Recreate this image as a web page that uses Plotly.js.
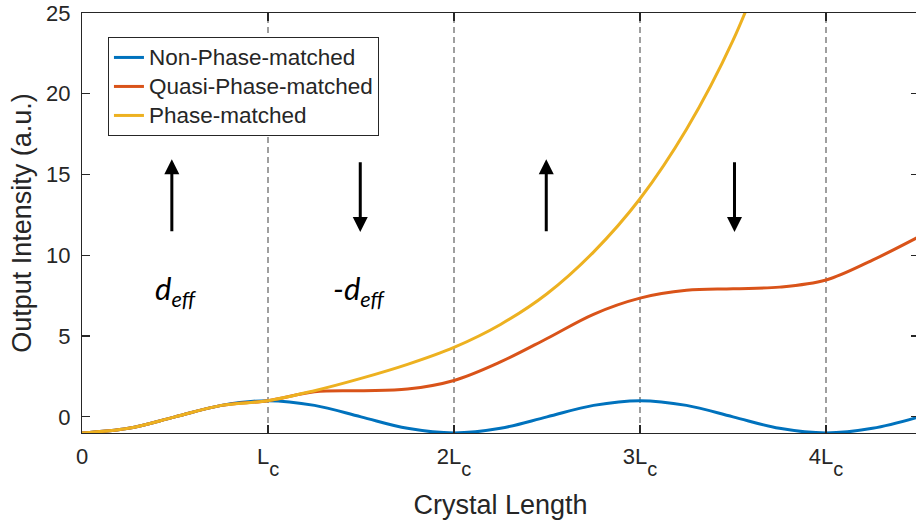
<!DOCTYPE html>
<html>
<head>
<meta charset="utf-8">
<script src="https://cdn.plot.ly/plotly-3.0.1.min.js"></script>
<style>
html,body{margin:0;padding:0;overflow:hidden;background:#ffffff;}
#chart{width:920px;height:526px;}
</style>
</head>
<body>
<div id="chart"></div>
<script>
// ---- data (x in units of Lc) ----
const xNon = [0,0.25,0.5,0.75,1,1.25,1.5,1.75,2,2.25,2.5,2.75,3,3.25,3.5,3.75,4,4.25,4.5];
const yNon = [-1,-0.71,0,0.71,1,0.71,0,-0.71,-1,-0.71,0,0.71,1,0.71,0,-0.71,-1,-0.71,0];

const xQuasi = [0,0.25,0.5,0.75,1,1.25,1.5,1.75,2,2.25,2.5,2.75,3,3.25,3.5,3.75,4,4.25,4.5];
const yQuasi = [-1,-0.71,0,0.71,1,1.55,1.62,1.72,2.25,3.4,4.85,6.35,7.35,7.83,7.93,8.03,8.47,9.7,11.15];

const xPhase = [0,0.25,0.5,0.75,1,1.25,1.5,1.75,2,2.25,2.5,2.75,3,3.25,3.5,3.75];
const yPhase = [-1,-0.71,0,0.71,1,1.62,2.38,3.25,4.3,5.72,7.62,10.2,13.5,17.8,23.3,30.5];

const seriesNames = ['Non-Phase-matched','Quasi-Phase-matched','Phase-matched'];
const seriesColors = ['#0072BD','#D95319','#EDB120'];

const subC = '<span style="font-size:20px;baseline-shift:-12px">c</span>';
const tickVals = [0,1,2,3,4];
const tickText = ['0','L'+subC,'2L'+subC,'3L'+subC,'4L'+subC];
const yTickVals = [0,5,10,15,20,25];

const dividers = [1,2,3,4];

// poling direction arrows
const arrowX    = [0.483,1.496,2.496,3.508];
const arrowTail = [11.4,15.85,11.4,15.85];
const arrowHead = [15.95,11.45,15.95,11.45];

// d_eff labels
const labelX = [0.505,1.49];
const labelY = [7.8,7.8];
const labelText = ['<i>d<sub>eff</sub></i>','<i>-d<sub>eff</sub></i>'];

// ---- build ----
const ink = '#262626';
const fam = '"Liberation Sans", Arial, Helvetica, sans-serif';

const xs = [xNon,xQuasi,xPhase];
const ys = [yNon,yQuasi,yPhase];
const traces = xs.map((x,i)=>({
  type:'scatter', mode:'lines', x:x, y:ys[i],
  name:'<span style="font-size:22.5px">'+seriesNames[i]+'</span>',
  line:{color:seriesColors[i], width:3, shape:'spline', smoothing:1}
}));

const shapes = dividers.map(d=>({
  type:'line', xref:'x', yref:'paper', x0:d, x1:d, y0:0, y1:1, layer:'below',
  line:{color:'#808080', width:1.5, dash:'6px,4px'}
}));

const annotations = [];
arrowX.forEach((x,i)=>{
  annotations.push({
    x:x, y:arrowHead[i], ax:x, ay:arrowTail[i], xref:'x', yref:'y', axref:'x', ayref:'y',
    text:'', showarrow:true, arrowhead:2, arrowsize:1, arrowwidth:3, arrowcolor:'#000000', standoff:0, startstandoff:0
  });
});
labelX.forEach((x,i)=>{
  annotations.push({
    x:x, y:labelY[i], xref:'x', yref:'y', text:labelText[i], showarrow:false,
    font:{family:'Lato, "Open Sans", sans-serif', size:31, color:'#000000'}
  });
});

const layout = {
  width:920, height:526,
  margin:{l:82, r:1, t:13, b:93, pad:0},
  paper_bgcolor:'#ffffff', plot_bgcolor:'#ffffff',
  font:{family:fam, color:ink},
  showlegend:true,
  legend:{x:0.031, y:0.943, xanchor:'left', yanchor:'top', bgcolor:'#ffffff',
          bordercolor:ink, borderwidth:1, font:{family:fam, size:20, color:ink}, itemwidth:30},
  xaxis:{range:[0,4.5], tickmode:'array', tickvals:tickVals, ticktext:tickText,
         showline:true, mirror:'ticks', linecolor:ink, linewidth:1.2,
         ticks:'inside', ticklen:8, tickwidth:1.2, tickcolor:ink,
         showgrid:false, zeroline:false, ticklabelstandoff:3,
         tickfont:{family:fam, size:22, color:ink},
         title:{text:'Crystal Length', font:{family:fam, size:27, color:ink}, standoff:16}},
  yaxis:{range:[-1,25], tickmode:'array', tickvals:yTickVals,
         showline:true, mirror:'ticks', linecolor:ink, linewidth:1.2,
         ticks:'inside', ticklen:8, tickwidth:1.2, tickcolor:ink,
         showgrid:false, zeroline:false, ticklabelstandoff:6,
         tickfont:{family:fam, size:22, color:ink},
         title:{text:'Output Intensity (a.u.)', font:{family:fam, size:27, color:ink}, standoff:6}},
  shapes:shapes,
  annotations:annotations
};

Plotly.newPlot('chart', traces, layout, {displayModeBar:false, staticPlot:true});
</script>
</body>
</html>
